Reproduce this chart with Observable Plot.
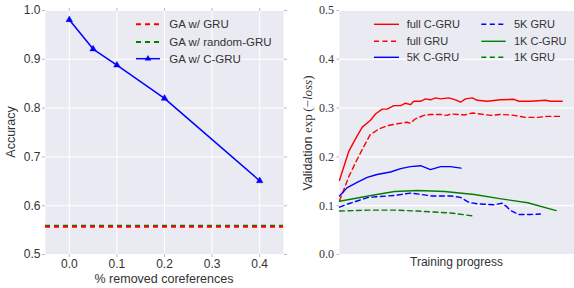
<!DOCTYPE html>
<html><head><meta charset="utf-8">
<script src="https://cdn.jsdelivr.net/npm/d3@7"></script>
<script src="https://cdn.jsdelivr.net/npm/@observablehq/plot@0.6"></script>
<style>
body{margin:0;background:#fff;}
#wrap{position:relative;width:574px;height:288px;overflow:hidden;}
#left,#right{position:absolute;top:0;}
#left{left:0;} #right{left:287px;}
svg{display:block;}
g[aria-label$="tick"]{stroke:#bbbbbb;}
</style></head>
<body><div id="wrap"><div id="left"></div><div id="right"></div></div>
<script>
// ---------- Left panel data ----------
const removedFrac = [0.0, 0.05, 0.1, 0.2, 0.4];
const accCGRU = [0.981, 0.921, 0.888, 0.82, 0.651];
const accGRU = [0.557];
const accRandomGRU = [0.559];
const leftXTicks = [0.0, 0.1, 0.2, 0.3, 0.4];
const leftYTicks = [0.5, 0.6, 0.7, 0.8, 0.9, 1.0];
const leftLegend = ["GA w/ GRU", "GA w/ random-GRU", "GA w/ C-GRU"];

// ---------- Right panel data (x = training progress, 0..100) ----------
const rightYTicks = [0.0, 0.1, 0.2, 0.3, 0.4, 0.5];
const fullCgruX = [0, 4, 6.8, 9.7, 13.2, 15.3, 18.2, 20.3, 23.1, 26, 28.1, 30.2, 31.6, 34.5, 36.6, 38.7, 40.9, 43, 46.5, 49.4, 51.5, 53.6, 56.5, 58.6, 62.9, 68.5, 74.2, 76.3, 81.3, 87.7, 89.8, 94.8];
const fullCgruY = [0.152, 0.212, 0.237, 0.261, 0.275, 0.288, 0.298, 0.298, 0.305, 0.305, 0.31, 0.307, 0.314, 0.314, 0.319, 0.317, 0.321, 0.319, 0.321, 0.317, 0.312, 0.319, 0.321, 0.316, 0.314, 0.317, 0.318, 0.314, 0.314, 0.316, 0.314, 0.314];
const fullGruX = [0, 4, 7, 10, 13, 16.7, 20.3, 24.6, 28.8, 30.2, 32.3, 35.9, 38.7, 43, 45.8, 47.2, 53.3, 56.5, 60, 64.3, 68.5, 72.8, 75.6, 79.1, 84.1, 88.4, 94.8];
const fullGruY = [0.11, 0.16, 0.19, 0.218, 0.245, 0.257, 0.264, 0.268, 0.271, 0.269, 0.278, 0.285, 0.287, 0.287, 0.285, 0.288, 0.286, 0.29, 0.288, 0.285, 0.287, 0.286, 0.284, 0.281, 0.281, 0.283, 0.283];
const k5CgruX = [0, 3.3, 7.5, 11.8, 16, 21.7, 26, 30.2, 34.5, 38.7, 43, 47.2, 51.7];
const k5CgruY = [0.12, 0.137, 0.148, 0.158, 0.164, 0.169, 0.176, 0.18, 0.182, 0.174, 0.18, 0.18, 0.177];
const k5GruX = [0, 3.8, 12.3, 23.4, 30.5, 39, 47.5, 51.5, 55, 58.6, 65.7, 69.2, 71.4, 72.8, 76.3, 81.3, 85.5];
const k5GruY = [0.097, 0.104, 0.117, 0.121, 0.126, 0.12, 0.12, 0.117, 0.107, 0.104, 0.102, 0.105, 0.097, 0.09, 0.082, 0.082, 0.083];
const k1CgruX = [0, 13.5, 23.4, 33.3, 44.7, 57.4, 68.8, 80.1, 92.2];
const k1CgruY = [0.109, 0.121, 0.129, 0.131, 0.129, 0.123, 0.114, 0.106, 0.09];
const k1GruX = [0, 12.3, 23.4, 33.3, 40.4, 47.5, 56.7];
const k1GruY = [0.089, 0.091, 0.091, 0.089, 0.087, 0.085, 0.079];
const rightNames = ["full C-GRU", "full GRU", "5K C-GRU", "5K GRU", "1K C-GRU", "1K GRU"];

// ---------- styles ----------
const RED = "#ff0000", GREEN = "#008000", BLUE = "#0000ff", BG = "#eaeaf2";
const zip = (xs, ys) => xs.map((x, i) => ({x, y: ys[i]}));
const fmt1 = d3.format(".1f");

// ---------- Left plot ----------
const left = Plot.plot({
  width: 287, height: 288,
  marginLeft: 45, marginRight: 4, marginTop: 10, marginBottom: 34,
  style: {fontFamily: "Liberation Sans, Arial, sans-serif", fontSize: "12px", color: "#333", background: "transparent"},
  x: {domain: [-0.05, 0.45]},
  y: {domain: [0.5, 1.0]},
  marks: [
    Plot.frame({fill: BG, stroke: null}),
    Plot.gridX(leftXTicks, {stroke: "white", strokeOpacity: 1, strokeWidth: 1}),
    Plot.gridY(leftYTicks, {stroke: "white", strokeOpacity: 1, strokeWidth: 1}),
    Plot.axisX(leftXTicks, {label: null, tickSize: 3, tickPadding: 2, tickFormat: fmt1, fontSize: 12}),
    Plot.axisX(leftXTicks, {label: null, anchor: "top", tickSize: 3, tickFormat: () => ""}),
    Plot.axisY(leftYTicks, {label: null, tickSize: 3, tickPadding: 2, tickFormat: fmt1, fontSize: 12}),
    Plot.axisY(leftYTicks, {label: null, anchor: "right", tickSize: 3, tickFormat: () => ""}),
    Plot.ruleY(accRandomGRU, {stroke: GREEN, strokeWidth: 2, strokeDasharray: "5,4"}),
    Plot.ruleY(accGRU, {stroke: RED, strokeWidth: 2, strokeDasharray: "5,4"}),
    Plot.line(zip(removedFrac, accCGRU), {x: "x", y: "y", stroke: BLUE, strokeWidth: 1.5}),
    Plot.dot(zip(removedFrac, accCGRU), {x: "x", y: "y", symbol: "triangle", r: 2.4, fill: BLUE, stroke: BLUE, strokeWidth: 0.5})
  ]
});
document.getElementById("left").appendChild(left);
{
  const s = d3.select(left);
  s.append("text").attr("x", 164).attr("y", 282.5).attr("text-anchor", "middle")
    .attr("font-size", 12.5).attr("fill", "#333").text("% removed coreferences");
  s.append("text").attr("transform", "translate(15,132) rotate(-90)").attr("text-anchor", "middle")
    .attr("font-size", 12.5).attr("fill", "#333").text("Accuracy");
  const leg = s.append("g").attr("font-size", 11.5).attr("fill", "#333").attr("text-anchor", "start");
  const styles = [{c: RED, d: "5,4"}, {c: GREEN, d: "5,4"}, {c: BLUE, d: null}];
  const rows = [24.3, 42, 58.7];
  leftLegend.forEach((name, i) => {
    const y = rows[i];
    const ln = leg.append("line").attr("x1", 136).attr("x2", 160).attr("y1", y).attr("y2", y)
      .attr("stroke", styles[i].c).attr("stroke-width", styles[i].d ? 2 : 1.5);
    if (styles[i].d) ln.attr("stroke-dasharray", styles[i].d);
    else leg.append("path").attr("d", d3.symbol(d3.symbolTriangle, 2.4 * 2.4 * Math.PI)()).attr("transform", `translate(148,${y})`).attr("fill", BLUE);
    leg.append("text").attr("x", 169.3).attr("y", y).attr("dy", "0.35em").attr("text-anchor", "start").text(name);
  });
}

// ---------- Right plot ----------
const rightSeries = [
  {d: zip(fullCgruX, fullCgruY), c: RED, dash: null},
  {d: zip(fullGruX, fullGruY), c: RED, dash: "5,3.5"},
  {d: zip(k5CgruX, k5CgruY), c: BLUE, dash: null},
  {d: zip(k5GruX, k5GruY), c: BLUE, dash: "5,3.5"},
  {d: zip(k1CgruX, k1CgruY), c: GREEN, dash: null},
  {d: zip(k1GruX, k1GruY), c: GREEN, dash: "5,3.5"}
];
const right = Plot.plot({
  width: 287, height: 288,
  marginLeft: 52, marginRight: 0, marginTop: 10, marginBottom: 34,
  style: {fontFamily: "Liberation Serif, serif", fontSize: "12px", color: "#333", background: "transparent"},
  x: {domain: [0, 100], axis: null},
  y: {domain: [0, 0.5]},
  marks: [
    Plot.frame({fill: BG, stroke: null}),
    Plot.gridY(rightYTicks, {stroke: "white", strokeOpacity: 1, strokeWidth: 1.2}),
    Plot.axisY(rightYTicks, {label: null, tickSize: 2.5, tickPadding: 3, tickFormat: fmt1, fontSize: 12}),
    ...rightSeries.map(s => Plot.line(s.d, {x: "x", y: "y", stroke: s.c, strokeWidth: 1.4, strokeDasharray: s.dash ?? undefined}))
  ]
});
document.getElementById("right").appendChild(right);
{
  const s = d3.select(right);
  s.append("text").attr("x", 169.5).attr("y", 266).attr("text-anchor", "middle")
    .attr("font-family", "Liberation Sans, Arial, sans-serif").attr("font-size", 12).attr("fill", "#333").text("Training progress");
  const yl = s.append("text").attr("transform", "translate(25.3,133) rotate(-90)").attr("text-anchor", "middle").attr("fill", "#333");
  yl.append("tspan").attr("font-family", "Liberation Sans, Arial, sans-serif").attr("font-size", 12.5).text("Validation ");
  yl.append("tspan").attr("font-family", "Liberation Serif, serif").attr("font-size", 13).text("exp\u2009(\u2212");
  yl.append("tspan").attr("font-family", "Liberation Serif, serif").attr("font-size", 13).attr("font-style", "italic").text("loss");
  yl.append("tspan").attr("font-family", "Liberation Serif, serif").attr("font-size", 13).text(")");
  const leg = s.append("g").attr("font-family", "Liberation Sans, Arial, sans-serif").attr("font-size", 11).attr("fill", "#333").attr("text-anchor", "start");
  const rows = [24.3, 41.3, 57.3];
  const cols = [{x1: 87, x2: 112, tx: 119.7}, {x1: 194.3, x2: 218.7, tx: 227}];
  rightNames.forEach((name, i) => {
    const col = cols[Math.floor(i / 3)], y = rows[i % 3], st = rightSeries[i];
    const ln = leg.append("line").attr("x1", col.x1).attr("x2", col.x2).attr("y1", y).attr("y2", y)
      .attr("stroke", st.c).attr("stroke-width", 1.4);
    if (st.dash) ln.attr("stroke-dasharray", st.dash);
    leg.append("text").attr("x", col.tx).attr("y", y).attr("dy", "0.35em").attr("text-anchor", "start").text(name);
  });
}
</script>
</body></html>
